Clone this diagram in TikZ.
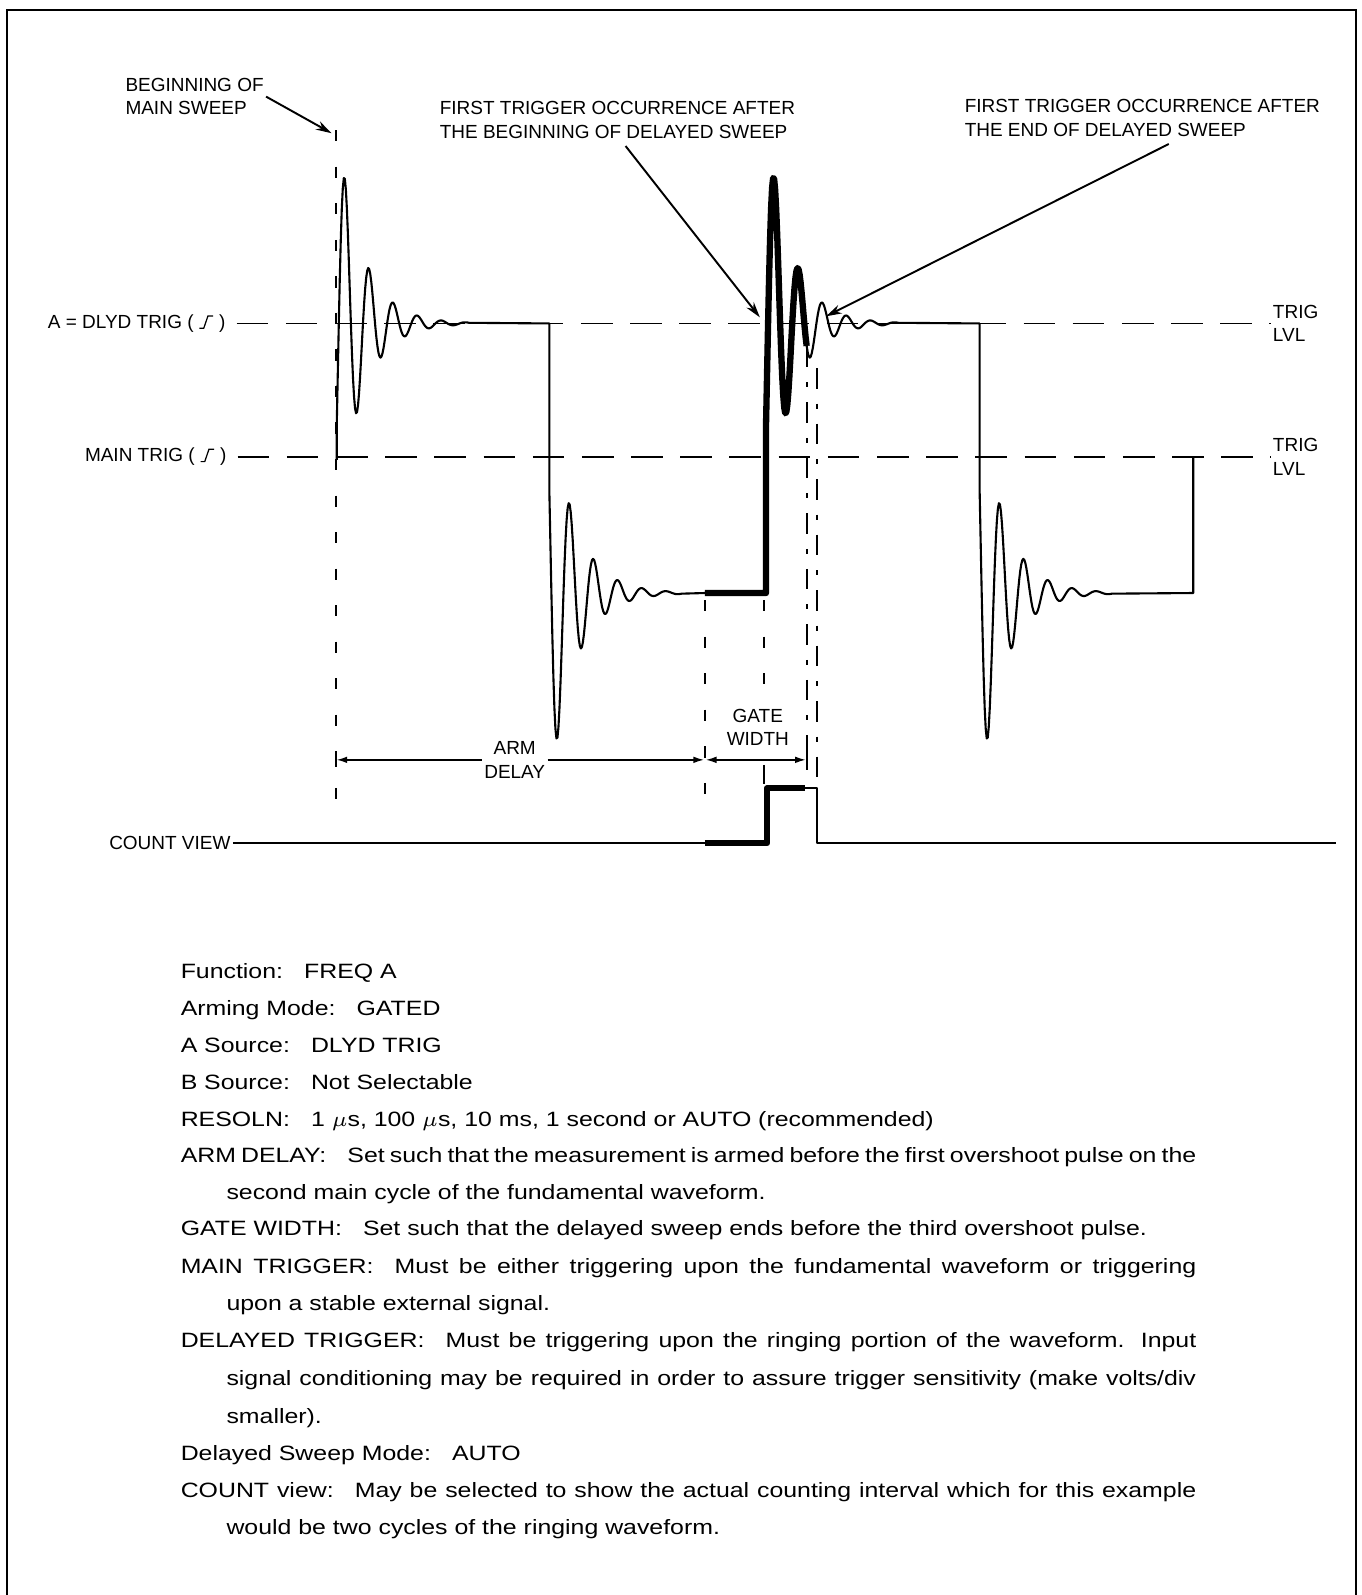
\documentclass[tikz,border=0pt]{standalone}
\usepackage{fontspec}
\setmainfont{Liberation Sans}
\newfontfamily\bodyfam{Liberation Sans}[FakeStretch=1.2]
\usepackage{tikz}
\usetikzlibrary{arrows.meta,calc}
\newcommand{\lblfont}{\fontsize{5.4}{6.7}\selectfont}
\newcommand{\bodyfont}{\bodyfam\fontsize{5.9}{7}\selectfont}
\newcommand{\edgesym}{\tikz[baseline=0pt,x=1pt,y=1pt]\draw[line width=.35pt] (0,0)--(1.2,0)--(2.4,3.5)--(3.9,3.5);}

\begin{document}
\begin{tikzpicture}[x=0.010172cm,y=0.010172cm,>={Latex[length=3pt,width=1.9pt]},
  declare function={ring(\x)=197*exp(-\x/24.5)*cos((\x-8)*15.158);},
  lbl/.style={font=\lblfont,inner sep=.5pt,align=left},
  txt/.style={font=\bodyfont,inner sep=0pt,anchor=base west},
  wave/.style={line width=.6pt,line join=round},
  heavy/.style={line width=1.8pt,line join=round},
  lvl/.style={line width=.5pt,dash pattern=on 9pt off 5pt,shorten <=2.5pt},
  sweepln/.style={line width=.5pt,dash pattern=on 3.2pt off 7.2pt},
  gateend/.style={line width=.5pt,dash pattern=on 5.8pt off 4.3pt on 1.4pt off 4.3pt},
  lead/.style={line width=.55pt,-{Stealth[length=4.5pt,width=2.6pt]}}]
\useasboundingbox (0,0) rectangle (1338,1568);
\draw[line width=.6pt] (7,0) -- (7,1558) -- (1333,1558) -- (1333,0);

\node[lbl,anchor=west] (bms) at (121,1473) {BEGINNING OF\\MAIN SWEEP};
\node[lbl,anchor=west] (fbd) at (430,1450) {FIRST TRIGGER OCCURRENCE AFTER\\THE BEGINNING OF DELAYED SWEEP};
\node[lbl,anchor=west] (fed) at (946,1452) {FIRST TRIGGER OCCURRENCE AFTER\\THE END OF DELAYED SWEEP};
\node[lbl,anchor=east] (dlyd) at (224,1250) {A = DLYD TRIG ( \edgesym\ )};
\node[lbl,anchor=east] (mtrig) at (225,1119) {MAIN TRIG ( \edgesym\ )};
\node[lbl,anchor=west] (lvl1) at (1249,1250) {TRIG\\LVL};
\node[lbl,anchor=west] (lvl2) at (1249,1119) {TRIG\\LVL};
\node[lbl,align=center] (arm) at (506,821) {ARM\\DELAY};
\node[lbl,align=center] (gate) at (745,853) {GATE\\WIDTH};
\node[lbl,anchor=east] (cview) at (229,739) {COUNT VIEW};

\coordinate (swtip) at (326,1437);
\coordinate (dtrig) at (747,1256);
\coordinate (etrig) at (812,1257);
\coordinate (armL) at (331,821);
\coordinate (armR) at (692,821);
\coordinate (gwL) at (694,821);
\coordinate (gwR) at (792,821);

\draw[lvl] (dlyd.east) -- (lvl1.west);
\draw[lvl] (mtrig.east) -- (lvl2.west);

\draw[sweepln] (330,1440) -- (330,778);
\draw[sweepln] (693,978) -- (693,782);
\draw[sweepln] (751,978) -- (751,883);
\draw[line width=.5pt] (751,816) -- (751,797);
\draw[gateend] (793,1227) -- (793,829);
\draw[line width=.5pt] (793,829) -- (793,811);
\draw[gateend] (803,1206) -- (803,793);
\draw[line width=.5pt] (330,828) -- (330,814);

\draw[wave] (331,1116) -- plot[domain=0:130,samples=131] ({331+\x},{1250+ring(\x)}) -- (540,1250)
  -- plot[domain=0:130,samples=131] ({540+\x},{985-ring(\x)}) -- (693,985);
\draw[heavy] (693,985) -- (753,985) -- plot[domain=0:40,samples=41] ({753+\x},{1250+ring(\x)});
\draw[wave] plot[domain=40:130,samples=91] ({753+\x},{1250+ring(\x)}) -- (963,1250)
  -- plot[domain=0:130,samples=131] ({963+\x},{985-ring(\x)}) -- (1173,985) -- (1173,1119);

\draw[wave] (cview.east) -- (693,739);
\draw[heavy] (693,739) -- (754,739) -- (754,793) -- (791,793);
\draw[wave] (791,793) -- (803,793) -- (803,739) -- (1313,739);

\draw[->] (arm.west) -- (armL);
\draw[->] (arm.east) -- (armR);
\draw[<->] (gwL) -- (gwR);

\draw[lead] (bms.east) -- (swtip);
\draw[lead] ($(fbd.south)+(8,-5)$) -- (dtrig);
\draw[lead] ($(fed.south)+(26,-5)$) -- (etrig);

\node[txt] (lfun) at (177,606) {Function:\hspace{6pt}FREQ A};
\node[txt] (lmode) at (177,570) {Arming Mode:\hspace{6pt}GATED};
\node[txt] (lasrc) at (177,533) {A Source:\hspace{6pt}DLYD TRIG};
\node[txt] (lbsrc) at (177,497) {B Source:\hspace{6pt}Not Selectable};
\node[txt] (lres) at (177,461) {RESOLN:\hspace{6pt}1 $\mu$s, 100 $\mu$s, 10 ms, 1 second or AUTO (recommended)};
\node[txt] (ldel1) at (177,425) {\makebox[10.16cm][s]{ARM DELAY:\hspace{6pt}Set such that the measurement is armed before the first overshoot pulse on the}};
\node[txt] (ldel2) at (222,389) {second main cycle of the fundamental waveform.};
\node[txt] (lgw) at (177,353) {GATE WIDTH:\hspace{6pt}Set such that the delayed sweep ends before the third overshoot pulse.};
\node[txt] (lmt1) at (177,316) {\makebox[10.16cm][s]{MAIN TRIGGER:\hspace{6pt}Must be either triggering upon the fundamental waveform or triggering}};
\node[txt] (lmt2) at (222,280) {upon a stable external signal.};
\node[txt] (ldt1) at (177,243) {\makebox[10.16cm][s]{DELAYED TRIGGER:\hspace{6pt}Must be triggering upon the ringing portion of the waveform. Input}};
\node[txt] (ldt2) at (222,206) {\makebox[9.70cm][s]{signal conditioning may be required in order to assure trigger sensitivity (make volts/div}};
\node[txt] (ldt3) at (222,169) {smaller).};
\node[txt] (lsw) at (177,132) {Delayed Sweep Mode:\hspace{6pt}AUTO};
\node[txt] (lcv1) at (177,96) {\makebox[10.16cm][s]{COUNT view:\hspace{6pt}May be selected to show the actual counting interval which for this example}};
\node[txt] (lcv2) at (222,59) {would be two cycles of the ringing waveform.};
\end{tikzpicture}
\end{document}
